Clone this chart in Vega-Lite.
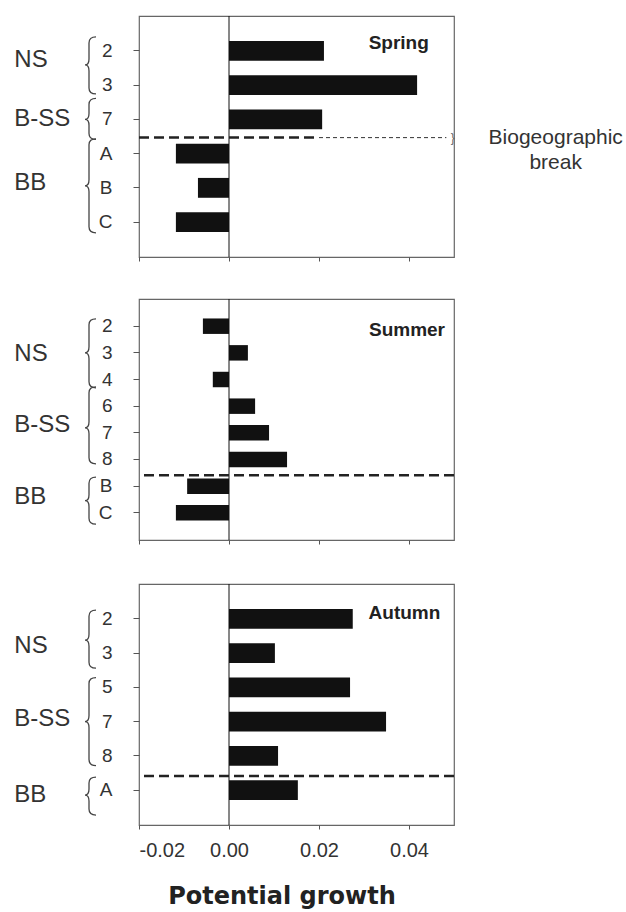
{
  "$schema": "https://vega.github.io/schema/vega-lite/v6.json",
  "padding": {"left": 13, "top": 14, "right": 0, "bottom": 0},
  "background": "white",
  "datasets": {
    "bars": [
      {"season": "Spring", "group": "NS", "site": "2", "value": 0.0211},
      {"season": "Spring", "group": "NS", "site": "3", "value": 0.0418},
      {"season": "Spring", "group": "B-SS", "site": "7", "value": 0.0207},
      {"season": "Spring", "group": "BB", "site": "A", "value": -0.0118},
      {"season": "Spring", "group": "BB", "site": "B", "value": -0.0069},
      {"season": "Spring", "group": "BB", "site": "C", "value": -0.0118},
      {"season": "Summer", "group": "NS", "site": "2", "value": -0.0058},
      {"season": "Summer", "group": "NS", "site": "3", "value": 0.0042},
      {"season": "Summer", "group": "NS", "site": "4", "value": -0.0036},
      {"season": "Summer", "group": "B-SS", "site": "6", "value": 0.0058},
      {"season": "Summer", "group": "B-SS", "site": "7", "value": 0.0089},
      {"season": "Summer", "group": "B-SS", "site": "8", "value": 0.0129},
      {"season": "Summer", "group": "BB", "site": "B", "value": -0.0093},
      {"season": "Summer", "group": "BB", "site": "C", "value": -0.0118},
      {"season": "Autumn", "group": "NS", "site": "2", "value": 0.0275},
      {"season": "Autumn", "group": "NS", "site": "3", "value": 0.0102},
      {"season": "Autumn", "group": "B-SS", "site": "5", "value": 0.0269},
      {"season": "Autumn", "group": "B-SS", "site": "7", "value": 0.0349},
      {"season": "Autumn", "group": "B-SS", "site": "8", "value": 0.0109},
      {"season": "Autumn", "group": "BB", "site": "A", "value": 0.0153}
    ],
    "groups": [
      {"season": "Spring", "group": "NS", "anchor": "2"},
      {"season": "Spring", "group": "B-SS", "anchor": "7"},
      {"season": "Spring", "group": "BB", "anchor": "B"},
      {"season": "Summer", "group": "NS", "anchor": "3"},
      {"season": "Summer", "group": "B-SS", "anchor": "7"},
      {"season": "Summer", "group": "BB", "anchor": "B"},
      {"season": "Autumn", "group": "NS", "anchor": "3"},
      {"season": "Autumn", "group": "B-SS", "anchor": "7"},
      {"season": "Autumn", "group": "BB", "anchor": "A"}
    ]
  },
  "spacing": 36,
  "resolve": {"scale": {"shape": "independent", "y": "independent", "x": "independent"}},
  "vconcat": [
    {
      "spacing": 34,
      "resolve": {"scale": {"shape": "independent", "y": "independent", "x": "independent"}},
      "vconcat": [
        {
          "width": 315,
          "height": 241,
          "layer": [
            {
              "data": {"name": "bars"},
              "transform": [{"filter": "datum.season === 'Spring'"}],
              "mark": {"type": "bar", "color": "#111", "orient": "horizontal"},
              "encoding": {
                "y": {"field": "site", "type": "nominal",
                  "scale": {"domain": ["2", "3", "7", "A", "B", "C"], "paddingInner": 0.42, "paddingOuter": 0.73},
                  "axis": {"title": null, "labelFontSize": 19, "labelPadding": 21, "tickSize": 6}},
                "x": {"field": "value", "type": "quantitative",
                  "scale": {"domain": [-0.02, 0.05], "nice": false},
                  "axis": {"title": null, "labels": false, "values": [-0.02, 0, 0.02, 0.04], "tickSize": 4}}
              }
            },
            {
              "data": {"values": [{}]},
              "mark": {"type": "rule", "color": "#111", "strokeWidth": 1},
              "encoding": {"x": {"datum": 0}}
            },
            {
              "data": {"values": [{}]},
              "mark": {"type": "rule", "color": "#222", "strokeWidth": 2.5, "strokeDash": [10, 5], "yOffset": -16},
              "encoding": {"y": {"datum": "A", "type": "nominal"}, "x": {"datum": -0.02}, "x2": {"datum": 0.02}}
            },
            {
              "data": {"values": [{}]},
              "mark": {"type": "rule", "color": "#333", "strokeWidth": 1, "strokeDash": [4, 3], "yOffset": -16},
              "encoding": {"y": {"datum": "A", "type": "nominal"}, "x": {"datum": 0.02}, "x2": {"datum": 0.0483}}
            },
            {
              "data": {"values": [{}]},
              "mark": {"type": "text", "text": "}", "fontSize": 12, "color": "#666", "baseline": "middle", "align": "center", "yOffset": -16},
              "encoding": {"y": {"datum": "A", "type": "nominal"}, "x": {"datum": 0.0497}}
            },
            {
              "data": {"name": "groups"},
              "transform": [{"filter": "datum.season === 'Spring'"}],
              "mark": {"type": "point", "filled": false, "size": 400, "color": "#444", "strokeWidth": 1.3, "opacity": 1},
              "encoding": {
                "y": {"field": "anchor", "type": "nominal"},
                "x": {"datum": -0.032},
                "shape": {"field": "group", "type": "nominal", "legend": null,
                  "scale": {"domain": ["NS", "B-SS", "BB"], "range": [
                    "M1.1,-1.4Q0.4,-1.4 0.4,-0.8L0.4,0.8Q0.4,1.4 0,1.4Q0.4,1.4 0.4,2L0.4,3.7Q0.4,4.3 1.1,4.3",
                    "M1.1,-2.1Q0.4,-2.1 0.4,-1.5L0.4,-0.6Q0.4,0 0,0Q0.4,0 0.4,0.6L0.4,1.4Q0.4,2 1.1,2",
                    "M1.1,-4.9Q0.4,-4.9 0.4,-4.3L0.4,-0.8Q0.4,-0.2 0,-0.2Q0.4,-0.2 0.4,0.4L0.4,3.9Q0.4,4.5 1.1,4.5"
                  ]}}
              }
            },
            {
              "data": {"name": "groups"},
              "transform": [{"filter": "datum.season === 'Spring' && datum.group === 'NS'"}],
              "mark": {"type": "text", "align": "left", "baseline": "middle", "fontSize": 24, "color": "#333", "yOffset": 9},
              "encoding": {"y": {"field": "anchor", "type": "nominal"}, "x": {"datum": -0.0477}, "text": {"field": "group"}}
            },
            {
              "data": {"name": "groups"},
              "transform": [{"filter": "datum.season === 'Spring' && datum.group === 'B-SS'"}],
              "mark": {"type": "text", "align": "left", "baseline": "middle", "fontSize": 24, "color": "#333", "yOffset": 0},
              "encoding": {"y": {"field": "anchor", "type": "nominal"}, "x": {"datum": -0.0477}, "text": {"field": "group"}}
            },
            {
              "data": {"name": "groups"},
              "transform": [{"filter": "datum.season === 'Spring' && datum.group === 'BB'"}],
              "mark": {"type": "text", "align": "left", "baseline": "middle", "fontSize": 24, "color": "#333", "yOffset": -5},
              "encoding": {"y": {"field": "anchor", "type": "nominal"}, "x": {"datum": -0.0477}, "text": {"field": "group"}}
            },
            {
              "data": {"values": [{}]},
              "mark": {"type": "text", "text": "Spring", "fontSize": 19, "fontWeight": "bold", "color": "#222", "align": "right", "baseline": "middle", "yOffset": -7.5},
              "encoding": {"y": {"datum": "2", "type": "nominal"}, "x": {"datum": 0.0444}}
            },
            {
              "data": {"values": [{}]},
              "mark": {"type": "text", "text": ["Biogeographic", "break"], "fontSize": 21, "color": "#333", "align": "center", "baseline": "alphabetic", "lineHeight": 25, "yOffset": -10},
              "encoding": {"y": {"datum": "A", "type": "nominal"}, "x": {"datum": 0.0726}}
            }
          ]
        },
        {
          "width": 315,
          "height": 241,
          "layer": [
            {
              "data": {"name": "bars"},
              "transform": [{"filter": "datum.season === 'Summer'"}],
              "mark": {"type": "bar", "color": "#111", "orient": "horizontal"},
              "encoding": {
                "y": {"field": "site", "type": "nominal",
                  "scale": {"domain": ["2", "3", "4", "6", "7", "8", "B", "C"], "paddingInner": 0.42, "paddingOuter": 0.73},
                  "axis": {"title": null, "labelFontSize": 19, "labelPadding": 21, "tickSize": 6}},
                "x": {"field": "value", "type": "quantitative",
                  "scale": {"domain": [-0.02, 0.05], "nice": false},
                  "axis": {"title": null, "labels": false, "values": [-0.02, 0, 0.02, 0.04], "tickSize": 4}}
              }
            },
            {
              "data": {"values": [{}]},
              "mark": {"type": "rule", "color": "#111", "strokeWidth": 1},
              "encoding": {"x": {"datum": 0}}
            },
            {
              "data": {"values": [{}]},
              "mark": {"type": "rule", "color": "#222", "strokeWidth": 2.5, "strokeDash": [10, 5], "yOffset": -11},
              "encoding": {"y": {"datum": "B", "type": "nominal"}}
            },
            {
              "data": {"name": "groups"},
              "transform": [{"filter": "datum.season === 'Summer'"}],
              "mark": {"type": "point", "filled": false, "size": 400, "color": "#444", "strokeWidth": 1.3, "opacity": 1},
              "encoding": {
                "y": {"field": "anchor", "type": "nominal"},
                "x": {"datum": -0.032},
                "shape": {"field": "group", "type": "nominal", "legend": null,
                  "scale": {"domain": ["NS", "B-SS", "BB"], "range": [
                    "M1.1,-3.4Q0.4,-3.4 0.4,-2.8L0.4,-0.6Q0.4,0 0,0Q0.4,0 0.4,0.6L0.4,2.9Q0.4,3.5 1.1,3.5",
                    "M1.1,-4.6Q0.4,-4.6 0.4,-4L0.4,-1.1Q0.4,-0.5 0,-0.5Q0.4,-0.5 0.4,0.1L0.4,2.5Q0.4,3.1 1.1,3.1",
                    "M1.1,-0.9Q0.4,-0.9 0.4,-0.3L0.4,0.85Q0.4,1.45 0,1.45Q0.4,1.45 0.4,2.05L0.4,3.2Q0.4,3.8 1.1,3.8"
                  ]}}
              }
            },
            {
              "data": {"name": "groups"},
              "transform": [{"filter": "datum.season === 'Summer' && datum.group === 'NS'"}],
              "mark": {"type": "text", "align": "left", "baseline": "middle", "fontSize": 24, "color": "#333", "yOffset": 1},
              "encoding": {"y": {"field": "anchor", "type": "nominal"}, "x": {"datum": -0.0477}, "text": {"field": "group"}}
            },
            {
              "data": {"name": "groups"},
              "transform": [{"filter": "datum.season === 'Summer' && datum.group === 'B-SS'"}],
              "mark": {"type": "text", "align": "left", "baseline": "middle", "fontSize": 24, "color": "#333", "yOffset": -8},
              "encoding": {"y": {"field": "anchor", "type": "nominal"}, "x": {"datum": -0.0477}, "text": {"field": "group"}}
            },
            {
              "data": {"name": "groups"},
              "transform": [{"filter": "datum.season === 'Summer' && datum.group === 'BB'"}],
              "mark": {"type": "text", "align": "left", "baseline": "middle", "fontSize": 24, "color": "#333", "yOffset": 10.5},
              "encoding": {"y": {"field": "anchor", "type": "nominal"}, "x": {"datum": -0.0477}, "text": {"field": "group"}}
            },
            {
              "data": {"values": [{}]},
              "mark": {"type": "text", "text": "Summer", "fontSize": 19, "fontWeight": "bold", "color": "#222", "align": "right", "baseline": "middle", "yOffset": 3.4},
              "encoding": {"y": {"datum": "2", "type": "nominal"}, "x": {"datum": 0.048}}
            }
          ]
        }
      ]
    },
    {
      "width": 315,
      "height": 241,
      "layer": [
        {
          "data": {"name": "bars"},
          "transform": [{"filter": "datum.season === 'Autumn'"}],
          "mark": {"type": "bar", "color": "#111", "orient": "horizontal"},
          "encoding": {
            "y": {"field": "site", "type": "nominal",
              "scale": {"domain": ["2", "3", "5", "7", "8", "A"], "paddingInner": 0.42, "paddingOuter": 0.73},
              "axis": {"title": null, "labelFontSize": 19, "labelPadding": 21, "tickSize": 6}},
            "x": {"field": "value", "type": "quantitative",
              "scale": {"domain": [-0.02, 0.05], "nice": false},
              "axis": {"title": "Potential growth", "values": [-0.02, 0, 0.02, 0.04], "tickSize": 4,
                "labelFontSize": 20, "labelPadding": 11,
                "labelExpr": "datum.value < 0 ? '-' + format(-datum.value, '.2f') : format(datum.value, '.2f')",
                "titleFont": "DejaVu Sans", "titleFontSize": 24, "titleFontWeight": "bold", "titleColor": "#222",
                "titlePadding": 24, "titleX": 142.5}}
          }
        },
        {
          "data": {"values": [{}]},
          "mark": {"type": "rule", "color": "#111", "strokeWidth": 1},
          "encoding": {"x": {"datum": 0}}
        },
        {
          "data": {"values": [{}]},
          "mark": {"type": "rule", "color": "#222", "strokeWidth": 2.5, "strokeDash": [10, 5], "yOffset": -14},
          "encoding": {"y": {"datum": "A", "type": "nominal"}}
        },
        {
          "data": {"name": "groups"},
          "transform": [{"filter": "datum.season === 'Autumn'"}],
          "mark": {"type": "point", "filled": false, "size": 400, "color": "#444", "strokeWidth": 1.3, "opacity": 1},
          "encoding": {
            "y": {"field": "anchor", "type": "nominal"},
            "x": {"datum": -0.032},
            "shape": {"field": "group", "type": "nominal", "legend": null,
              "scale": {"domain": ["NS", "B-SS", "BB"], "range": [
                "M1.1,-4.3Q0.4,-4.3 0.4,-3.7L0.4,-1.9Q0.4,-1.3 0,-1.3Q0.4,-1.3 0.4,-0.7L0.4,0.9Q0.4,1.5 1.1,1.5",
                "M1.1,-4.4Q0.4,-4.4 0.4,-3.8L0.4,-0.6Q0.4,0 0,0Q0.4,0 0.4,0.6L0.4,3.8Q0.4,4.4 1.1,4.4",
                "M1.1,-1.3Q0.4,-1.3 0.4,-0.7L0.4,-0.1Q0.4,0.5 0,0.5Q0.4,0.5 0.4,1.1L0.4,1.9Q0.4,2.5 1.1,2.5"
              ]}}
          }
        },
        {
          "data": {"name": "groups"},
          "transform": [{"filter": "datum.season === 'Autumn' && datum.group === 'NS'"}],
          "mark": {"type": "text", "align": "left", "baseline": "middle", "fontSize": 24, "color": "#333", "yOffset": -7},
          "encoding": {"y": {"field": "anchor", "type": "nominal"}, "x": {"datum": -0.0477}, "text": {"field": "group"}}
        },
        {
          "data": {"name": "groups"},
          "transform": [{"filter": "datum.season === 'Autumn' && datum.group === 'B-SS'"}],
          "mark": {"type": "text", "align": "left", "baseline": "middle", "fontSize": 24, "color": "#333", "yOffset": -2.5},
          "encoding": {"y": {"field": "anchor", "type": "nominal"}, "x": {"datum": -0.0477}, "text": {"field": "group"}}
        },
        {
          "data": {"name": "groups"},
          "transform": [{"filter": "datum.season === 'Autumn' && datum.group === 'BB'"}],
          "mark": {"type": "text", "align": "left", "baseline": "middle", "fontSize": 24, "color": "#333", "yOffset": 5},
          "encoding": {"y": {"field": "anchor", "type": "nominal"}, "x": {"datum": -0.0477}, "text": {"field": "group"}}
        },
        {
          "data": {"values": [{}]},
          "mark": {"type": "text", "text": "Autumn", "fontSize": 19, "fontWeight": "bold", "color": "#222", "align": "right", "baseline": "middle", "yOffset": -6},
          "encoding": {"y": {"datum": "2", "type": "nominal"}, "x": {"datum": 0.04696}}
        }
      ]
    }
  ],
  "config": {
    "font": "Liberation Sans",
    "view": {"stroke": "#666", "strokeWidth": 1.2},
    "axis": {"grid": false, "domain": false, "tickColor": "#555", "labelColor": "#333", "labelFont": "Liberation Sans"},
    "legend": {"disable": true}
  }
}
